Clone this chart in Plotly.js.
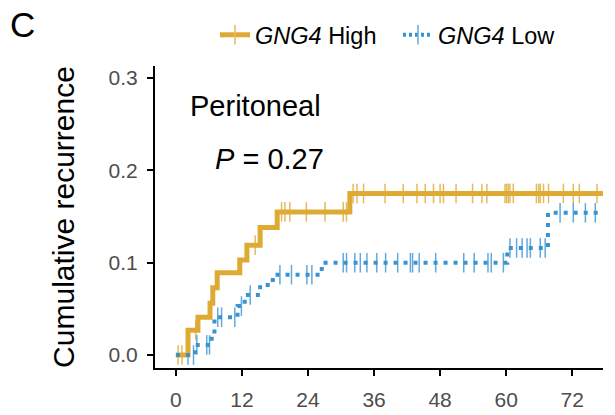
<!DOCTYPE html>
<html>
<head>
<meta charset="utf-8">
<script src="https://cdn.plot.ly/plotly-3.0.1.min.js"></script>
<style>html,body{margin:0;padding:0;background:#fff;}#chart{width:615px;height:415px;}</style>
</head>
<body>
<div id="chart"></div>
<script>
// ---- data (months, cumulative recurrence) ----
var highEventTimes  = [0, 2.2, 4.0, 6.2, 6.7, 7.5, 11.6, 12.9, 15.3, 18.4, 31.6];
var highEventValues = [0, 0.027, 0.041, 0.056, 0.073, 0.089, 0.103, 0.119, 0.138, 0.155, 0.175];
var highCensorTimes = [0.4, 1.1, 3.6, 14.4, 19.2, 19.8, 20.7, 23.7, 27.1, 30.4, 31.0, 32.2, 32.9, 34.1,
  38.0, 41.3, 43.8, 45.3, 46.8, 48.0, 48.6, 50.9, 53.9, 55.6, 56.5, 59.8, 60.1, 60.4, 60.7, 61.3,
  65.5, 65.9, 66.2, 66.8, 67.7, 70.4, 72.2, 73.3, 76.5];

var lowEventTimes  = [0, 3.5, 6.5, 7.0, 11.2, 12.5, 15.3, 17.6, 26.5, 60.2, 67.6];
var lowEventValues = [0, 0.011, 0.022, 0.041, 0.053, 0.065, 0.076, 0.087, 0.100, 0.116, 0.154];
var lowCensorTimes = [2.2, 3.2, 3.8, 5.6, 6.1, 7.6, 8.3, 10.7, 11.9, 13.5, 18.9, 21.0, 23.8, 24.7,
  30.4, 31.0, 32.5, 33.5, 34.7, 36.5, 38.1, 40.3, 42.6, 43.0, 44.2, 47.2, 52.3, 54.2, 56.7, 57.3, 59.5,
  60.7, 61.9, 62.9, 63.8, 64.4, 66.2, 67.1, 69.8, 72.2, 74.4, 76.2];

var maxFollowUp = 78;
var xTickVals = [0, 12, 24, 36, 48, 60, 72];
var yTickVals = [0, 0.1, 0.2, 0.3];
var groupNames = ['<i>GNG4</i> High', '<i>GNG4</i> Low'];
var annotationTexts = ['Peritoneal', '<i>P</i> = 0.27'];

// ---- helpers ----
function stepValue(times, values, t) {
  var v = values[0];
  for (var i = 0; i < times.length; i++) { if (times[i] <= t) v = values[i]; }
  return v;
}
function stepLine(times, values) {
  return { x: times.concat([maxFollowUp]), y: values.concat([values[values.length - 1]]) };
}

var gold = '#DEAA34', goldTick = '#E4BA5E';
var blue = '#3A93CF', blueTick = '#62AADB';
var FONT = 'Liberation Sans, Arial, Helvetica, sans-serif';

var hi = stepLine(highEventTimes, highEventValues);
var lo = stepLine(lowEventTimes, lowEventValues);

function censorMarker(c) { return { symbol: 'line-ns-open', size: 14, color: c, line: { color: c, width: 1.5 } }; }

var traces = [
  { x: highCensorTimes, y: highCensorTimes.map(function (t) { return stepValue(highEventTimes, highEventValues, t); }),
    mode: 'markers', type: 'scatter', showlegend: false, hoverinfo: 'skip', marker: censorMarker(goldTick) },
  { x: lowCensorTimes, y: lowCensorTimes.map(function (t) { return stepValue(lowEventTimes, lowEventValues, t); }),
    mode: 'markers', type: 'scatter', showlegend: false, hoverinfo: 'skip', marker: censorMarker(blueTick) },
  { x: hi.x, y: hi.y, mode: 'lines', type: 'scatter', showlegend: false,
    line: { shape: 'hv', color: gold, width: 5 } },
  { x: lo.x, y: lo.y, mode: 'lines', type: 'scatter', showlegend: false,
    line: { shape: 'hv', color: blue, width: 4, dash: '4px,6px' } },
  // legend entries
  { x: [null], y: [null], mode: 'lines+markers', type: 'scatter', name: groupNames[0],
    line: { color: gold, width: 5 }, marker: censorMarker(goldTick) },
  { x: [null], y: [null], mode: 'lines+markers', type: 'scatter', name: groupNames[1],
    line: { color: blue, width: 4, dash: '3px,3px' }, marker: censorMarker(blueTick) }
];

var layout = {
  width: 615, height: 415,
  margin: { l: 155, r: 12, t: 66, b: 47 },
  paper_bgcolor: '#fff', plot_bgcolor: '#fff',
  font: { family: FONT, color: '#000' },
  title: { text: 'C', font: { size: 35, color: '#000', family: FONT },
           xref: 'container', yref: 'container', x: 10 / 615, xanchor: 'left', y: 1 - 25 / 415, yanchor: 'middle' },
  showlegend: true,
  legend: { orientation: 'h', xref: 'container', yref: 'container', x: 215 / 615, xanchor: 'left',
            y: 1 - 35 / 415, yanchor: 'middle', font: { size: 23.5, color: '#000', family: FONT },
            entrywidth: 138, entrywidthmode: 'pixels',
            bgcolor: 'rgba(0,0,0,0)', itemclick: false, traceorder: 'normal' },
  xaxis: { range: [-3.8, 77.6], tickvals: xTickVals, ticktext: xTickVals.map(String),
           showgrid: false, zeroline: false, showline: true, linecolor: '#000', linewidth: 2,
           ticks: 'outside', ticklen: 6, tickwidth: 2, tickcolor: '#000',
           tickfont: { size: 21, color: '#4D4D4D', family: FONT }, ticklabelstandoff: 6 },
  yaxis: { range: [-0.014, 0.313], tickvals: yTickVals, ticktext: yTickVals.map(function (v) { return v.toFixed(1); }),
           showgrid: false, zeroline: false, showline: true, linecolor: '#000', linewidth: 2,
           ticks: 'outside', ticklen: 6, tickwidth: 2, tickcolor: '#000',
           tickfont: { size: 21, color: '#4D4D4D', family: FONT }, ticklabelstandoff: 5,
           title: { text: 'Cumulative recurrence', font: { size: 30, color: '#000', family: FONT }, standoff: 25 } },
  annotations: [
    { text: annotationTexts[0], xref: 'paper', yref: 'paper', x: 0.0737, y: 0.868, xanchor: 'left', yanchor: 'middle',
      showarrow: false, font: { size: 29, color: '#000', family: FONT } },
    { text: annotationTexts[1], xref: 'paper', yref: 'paper', x: 0.1295, y: 0.692, xanchor: 'left', yanchor: 'middle',
      showarrow: false, font: { size: 29, color: '#000', family: FONT } }
  ]
};

Plotly.newPlot('chart', traces, layout, { staticPlot: true, displayModeBar: false });
</script>
</body>
</html>
